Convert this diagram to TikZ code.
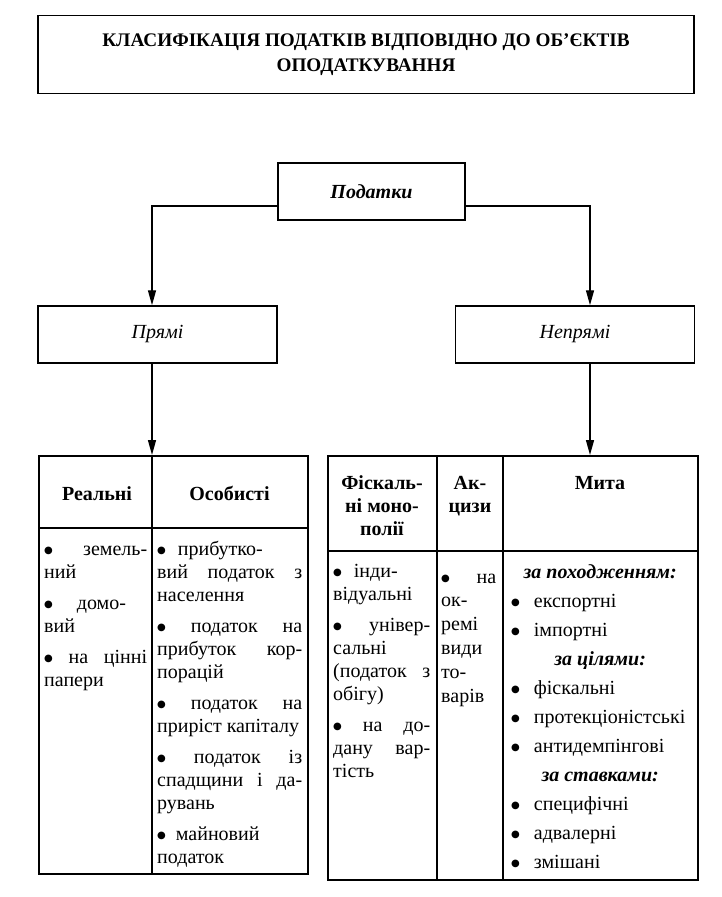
\documentclass[tikz,border=0pt]{standalone}
\usepackage{fontspec}
\setmainfont{Liberation Serif}
\newfontfamily\dejavu{DejaVu Sans}
\usetikzlibrary{arrows.meta,calc}
\newcommand\mybul{\raisebox{1.2pt}{\dejavu\fontsize{10}{10}\selectfont ●}}
\newcommand\myjl[1]{\makebox[\linewidth][s]{#1}}
\newcommand\myll[1]{\makebox[\linewidth][l]{#1}}
\newcommand\mycl[1]{\makebox[\linewidth][c]{#1}}
\newcommand\mybl[1]{\makebox[\linewidth][l]{\hspace{8pt}\mybul\hspace{14pt}#1}}
\begin{document}
\begin{tikzpicture}[x=1pt,y=-1pt,
  box/.style={draw, line width=1.5pt, inner sep=0pt},
  arr/.style={line width=1.4pt, -{Triangle[length=15pt,width=8pt]}},
  rule/.style={line width=1.4pt},
  cellbox/.style={anchor=base west, inner sep=0pt, font=\fontsize{20}{23}\selectfont},
  head/.style={anchor=base, inner sep=0pt, font=\bfseries\fontsize{20}{23}\selectfont}]
\fill[white] (0,0) rectangle (721,897);
\useasboundingbox (0,0) rectangle (721,897);

\node[box, minimum width=656pt, minimum height=78pt, align=center,
      font=\bfseries\fontsize{19.2}{25}\selectfont] (title) at (366,54.5)
  {КЛАСИФІКАЦІЯ ПОДАТКІВ ВІДПОВІДНО ДО ОБ’ЄКТІВ\\ОПОДАТКУВАННЯ};

\node[box, minimum width=187pt, minimum height=57pt,
      font=\bfseries\itshape\fontsize{20}{23}\selectfont] (pod) at (371.5,191.5) {Податки};
\node[box, minimum width=239pt, minimum height=57pt,
      font=\itshape\fontsize{20}{23}\selectfont] (prjami) at (157.5,334.5) {Прямі};
\node[box, minimum width=239pt, minimum height=57pt,
      font=\itshape\fontsize{20}{23}\selectfont] (neprjami) at (575,334.5) {Непрямі};

\coordinate (ldiv) at (152,455);
\coordinate (rarr) at (590,455);

\node[box, anchor=north west, minimum width=269pt, minimum height=418pt] (ltab) at (38,455) {};
\node[box, anchor=north west, minimum width=370pt, minimum height=424pt] (rtab) at (327,455) {};

% table rules
\draw[rule] (ldiv) -- (ldiv |- ltab.south);
\draw[rule] (ltab.west |- 0,528) -- (ltab.east |- 0,528);
\draw[rule] (rtab.north -| 437,0) -- (rtab.south -| 437,0);
\draw[rule] (rtab.north -| 503,0) -- (rtab.south -| 503,0);
\draw[rule] (rtab.west |- 0,551) -- (rtab.east |- 0,551);

% connectors
\draw[arr] ($(pod.south west)!0.25!(pod.north west)$) -| (ldiv |- prjami.north);
\draw[arr] ($(pod.south east)!0.25!(pod.north east)$) -| (rarr |- neprjami.north);
\draw[arr] (prjami.south -| ldiv) -- (ldiv);
\draw[arr] (neprjami.south -| rarr) -- (rarr);

% headers
\node[head] (hreal) at (97,500) {Реальні};
\node[head] (hos) at (229.5,500) {Особисті};
\node[head] (hfisc) at (382,489) {\parbox[t]{104pt}{\centering Фіскаль-\\ні моно-\\полії}};
\node[head] (hakc) at (470,489) {\parbox[t]{60pt}{\centering Ак-\\цизи}};
\node[head] (hmyta) at (600,489) {Мита};

% left table body
\node[cellbox] (creal) at (44,555) {\parbox[t]{103pt}{%
\myjl{\mybul\ земель-}\\
ний\\[8pt]
\myll{\mybul\hspace{24pt}домо-}\\
вий\\[8pt]
\myjl{\mybul\ на цінні}\\
папери}};

\node[cellbox] (cos) at (157,555) {\parbox[t]{145pt}{%
\myll{\mybul\hspace{12pt}прибутко-}\\
\myjl{вий податок з}\\
населення\\[8pt]
\myjl{\mybul\ податок на}\\
\myjl{прибуток кор-}\\
порацій\\[8pt]
\myjl{\mybul\ податок на}\\
приріст капіталу\\[8pt]
\myjl{\mybul\ податок із}\\
\myjl{спадщини і да-}\\
рувань\\[8pt]
\myll{\mybul\hspace{10pt}майновий}\\
податок}};

% right table body
\node[cellbox] (cfisc) at (333,577) {\parbox[t]{97pt}{%
\myll{\mybul\hspace{12pt}інди-}\\
відуальні\\[8pt]
\myjl{\mybul\ універ-}\\
сальні\\
\myjl{(податок з}\\
обігу)\\[8pt]
\myjl{\mybul\ на до-}\\
\myjl{дану вар-}\\
тість}};

\node[cellbox, font=\fontsize{20}{23.8}\selectfont] (cakc) at (441,583) {\parbox[t]{55pt}{%
\myjl{\mybul\ на}\\
ок-\\
ремі\\
види\\
то-\\
варів}};

\node[cellbox, font=\fontsize{20}{29}\selectfont] (cmyta) at (503,578) {\parbox[t]{194pt}{%
\mycl{\bfseries\itshape за походженням:}\\
\mybl{експортні}\\
\mybl{імпортні}\\
\mycl{\bfseries\itshape за цілями:}\\
\mybl{фіскальні}\\
\mybl{протекціоністські}\\
\mybl{антидемпінгові}\\
\mycl{\bfseries\itshape за ставками:}\\
\mybl{специфічні}\\
\mybl{адвалерні}\\
\mybl{змішані}}};
\end{tikzpicture}
\end{document}
